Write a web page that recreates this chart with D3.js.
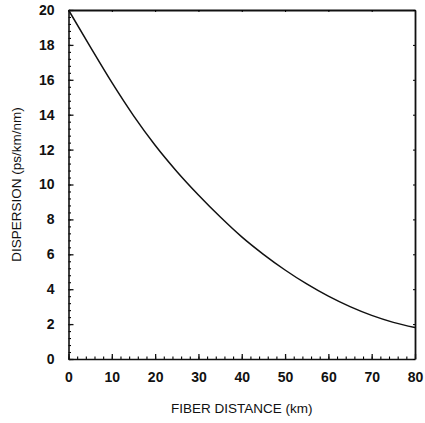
<!DOCTYPE html>
<html>
<head>
<meta charset="utf-8">
<script src="https://cdn.jsdelivr.net/npm/d3@7"></script>
<style>
  body { margin: 0; background: #fff; }
  text { font-family: "Liberation Sans", Arial, sans-serif; fill: #111; }
</style>
</head>
<body>
<svg></svg>
<script>
// values, every 5 km
const distance = [0, 5, 10, 15, 20, 25, 30, 35, 40, 45, 50, 55, 60, 65, 70, 75, 80];
const dispersion = [20, 17.9, 15.85, 13.95, 12.25, 10.75, 9.4, 8.15, 7.0, 6.0, 5.1, 4.3, 3.6, 3.0, 2.5, 2.1, 1.8];
const xTicks = [0, 10, 20, 30, 40, 50, 60, 70, 80];
const yTicks = [0, 2, 4, 6, 8, 10, 12, 14, 16, 18, 20];

const margin = { t: 10, r: 10, b: 64, l: 68.5 };
const size = { w: 425, h: 423 };
const svg = d3.select("svg").attr("width", size.w).attr("height", size.h);

const x = d3.scaleLinear().domain([0, 80]).range([margin.l, 415]);
const y = d3.scaleLinear().domain([0, 20]).range([359, margin.t]);

const g = svg.append("g");

// minor ticks (inside)
const minorX = d3.range(0, 80.01, 2);
const minorY = d3.range(0, 20.01, 0.4);

g.append("g")
  .attr("transform", `translate(0,${y(0)})`)
  .call(d3.axisBottom(x).tickValues(minorX).tickSize(-2.5).tickFormat(""))
  .call(a => a.select(".domain").remove())
  .attr("stroke-width", 1.1);

g.append("g")
  .attr("transform", `translate(${x(0)},0)`)
  .call(d3.axisLeft(y).tickValues(minorY).tickSize(-2.5).tickFormat(""))
  .call(a => a.select(".domain").remove())
  .attr("stroke-width", 1.1);

// major axes
const xAxis = g.append("g")
  .attr("transform", `translate(0,${y(0)})`)
  .call(d3.axisBottom(x).tickValues(xTicks).tickSize(-5).tickPadding(13).tickSizeOuter(0));

const yAxis = g.append("g")
  .attr("transform", `translate(${x(0)},0)`)
  .call(d3.axisLeft(y).tickValues(yTicks).tickSize(-5).tickPadding(14).tickSizeOuter(0));

[xAxis, yAxis].forEach(a => {
  a.select(".domain").attr("stroke-width", 1.6).attr("stroke", "#111");
  a.selectAll(".tick line").attr("stroke-width", 1.3).attr("stroke", "#111");
  a.selectAll("text")
    .attr("font-size", 14)
    .attr("font-weight", "bold")
    .attr("fill", "#111")
    .style("font-family", "'Liberation Sans', Arial, sans-serif");
});

// top and right frame
g.append("g")
  .attr("transform", `translate(0,${y(20)})`)
  .call(d3.axisTop(x).tickValues(xTicks).tickSize(-2).tickFormat("").tickSizeOuter(0))
  .call(a => a.select(".domain").attr("stroke-width", 1.8).attr("stroke", "#111"));

g.append("g")
  .attr("transform", `translate(${x(80)},0)`)
  .call(d3.axisRight(y).tickValues(yTicks).tickSize(-2).tickFormat("").tickSizeOuter(0))
  .call(a => a.select(".domain").attr("stroke-width", 1.8).attr("stroke", "#111"));

// curve
const line = d3.line()
  .x((d, i) => x(distance[i]))
  .y(d => y(d))
  .curve(d3.curveMonotoneX);

g.append("path")
  .datum(dispersion)
  .attr("fill", "none")
  .attr("stroke", "#111")
  .attr("stroke-width", 1.5)
  .attr("d", line);

// axis titles
svg.append("text")
  .attr("x", (x(0) + x(80)) / 2)
  .attr("y", 413)
  .attr("text-anchor", "middle")
  .attr("font-size", 13.5)
  .text("FIBER DISTANCE (km)");

svg.append("text")
  .attr("transform", `translate(21,${(y(0) + y(20)) / 2}) rotate(-90)`)
  .attr("text-anchor", "middle")
  .attr("font-size", 13.5)
  .text("DISPERSION (ps/km/nm)");
</script>
</body>
</html>
